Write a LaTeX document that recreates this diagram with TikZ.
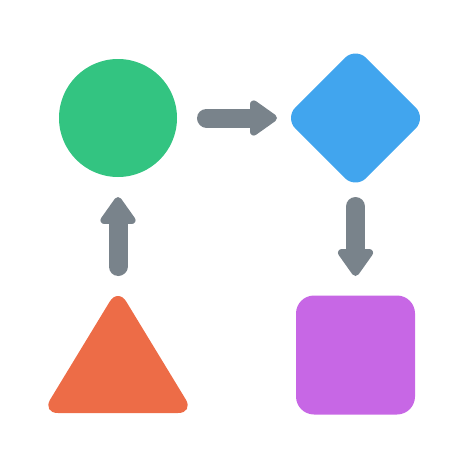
\documentclass[tikz,border=0pt]{standalone}
\usetikzlibrary{arrows.meta,shapes.geometric,calc}
\definecolor{cgreen}{HTML}{33C481}
\definecolor{cblue}{HTML}{41A5EE}
\definecolor{corange}{HTML}{ED6C47}
\definecolor{cpurple}{HTML}{C767E5}
\definecolor{cgray}{HTML}{79838B}
\begin{document}
\begin{tikzpicture}[x=1pt,y=-1pt,
  conn/.style={draw=cgray, line width=19pt, line cap=round,
    -{Triangle[round, length=30pt, width=40pt, line width=12pt 0]}},
  shapebox/.style={inner sep=0pt, outer sep=0pt}]
\useasboundingbox (0,0) rectangle (474,474);
\node[shapebox, circle, fill=cgreen, minimum size=118pt] (c) at (118,118) {};
\node[shapebox, diamond, aspect=1, rounded corners=15pt, fill=cblue, minimum size=141.4pt] (d) at (355.5,118) {};
\node[shapebox, rectangle, rounded corners=18pt, fill=cpurple, minimum size=119pt] (s) at (355.5,355) {};
\fill[corange, rounded corners=16pt] (42,413) -- (118,288) -- (194,413) -- cycle;
\coordinate (t) at (118,297);
\draw[conn, shorten <=29.5pt, shorten >=7.8pt] (c.east) -- (d.west);
\draw[conn, shorten <=17.8pt, shorten >=19.5pt] (d.south) -- (s.north);
\draw[conn, shorten <=30.5pt, shorten >=20pt] (t) -- (c.south);
\end{tikzpicture}
\end{document}
